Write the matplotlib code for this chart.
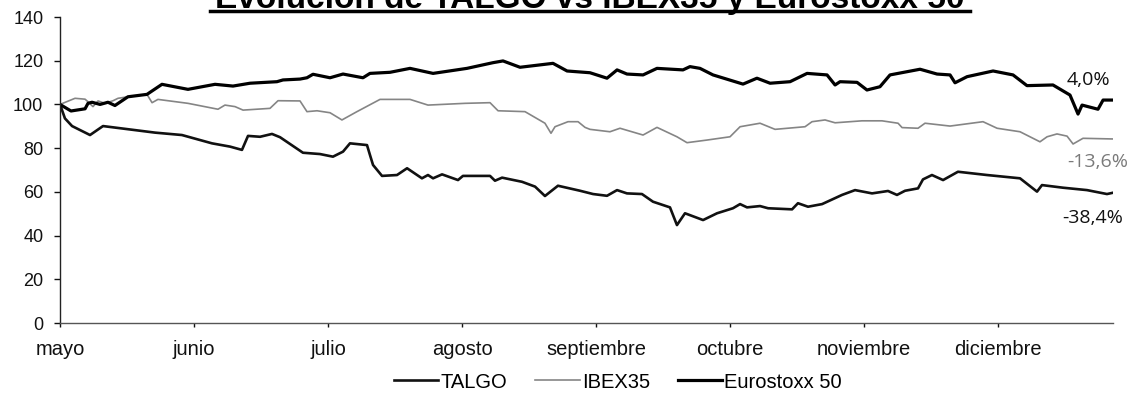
import matplotlib
matplotlib.use("Agg")
import matplotlib.pyplot as plt
from matplotlib.lines import Line2D

# ---- data (x in months since start of May) ----
months = ["mayo", "junio", "julio", "agosto", "septiembre", "octubre", "noviembre", "diciembre"]

euro_x = [0, 0.082, 0.187, 0.209, 0.239, 0.299, 0.358, 0.410, 0.507, 0.649, 0.761, 0.955, 1.157, 1.291,
          1.418, 1.619, 1.664, 1.791, 1.843, 1.888, 2.015, 2.112, 2.261, 2.313, 2.463, 2.612, 2.784,
          3.037, 3.231, 3.306, 3.433, 3.679, 3.784, 3.955, 4.082, 4.157, 4.231, 4.351, 4.455, 4.649,
          4.701, 4.776, 4.873, 5.097, 5.201, 5.299, 5.448, 5.575, 5.724, 5.784, 5.821, 5.948, 6.022,
          6.119, 6.194, 6.418, 6.545, 6.642, 6.679, 6.769, 6.963, 7.112, 7.216, 7.410, 7.537, 7.597,
          7.627, 7.746, 7.784, 7.858]
euro_y = [100, 97, 98, 100.5, 101, 100, 101, 99.5, 103.5, 104.6, 109.2, 106.9, 109.2, 108.4,
          109.7, 110.4, 111.2, 111.6, 112.2, 113.8, 112.2, 113.9, 112.2, 114.2, 114.7, 116.5, 114.2,
          116.5, 119.1, 119.9, 117, 118.8, 115.3, 114.5, 112, 115.8, 113.9, 113.5, 116.5, 115.8,
          117.3, 116.5, 113.5, 109.3, 112, 109.7, 110.4, 114.2, 113.5, 108.9, 110.4, 110.1, 106.6,
          108.1, 113.5, 116.1, 113.9, 113.5, 109.9, 112.7, 115.3, 113.5, 108.6, 108.9, 104.3, 95.6,
          99.7, 97.8, 102, 102]

ibex_x = [0, 0.112, 0.187, 0.209, 0.246, 0.284, 0.336, 0.396, 0.433, 0.507, 0.649, 0.687, 0.731,
          0.955, 1.179, 1.231, 1.306, 1.366, 1.567, 1.627, 1.791, 1.843, 1.918, 2.015, 2.104, 2.216,
          2.388, 2.612, 2.746, 3.022, 3.209, 3.269, 3.470, 3.619, 3.664, 3.694, 3.791, 3.866, 3.918,
          3.955, 4.104, 4.179, 4.351, 4.455, 4.604, 4.679, 4.828, 5.000, 5.075, 5.224, 5.336, 5.560,
          5.612, 5.709, 5.784, 5.985, 6.134, 6.254, 6.284, 6.403, 6.455, 6.642, 6.888, 6.993, 7.164,
          7.313, 7.366, 7.440, 7.515, 7.560, 7.634, 7.858]
ibex_y = [100, 102.8, 102.4, 101.2, 99, 101.6, 100.5, 101.7, 102.8, 103.5, 104.6, 100.8, 102.3,
          100.5, 97.8, 99.7, 99, 97.4, 98.2, 101.7, 101.6, 96.7, 97.1, 96.2, 92.9, 96.7,
          102.3, 102.3, 99.7, 100.5, 100.8, 97.1, 96.7, 91.4, 86.8, 89.8, 92.1, 92.1, 89.5,
          88.6, 87.5, 89.1, 86, 89.5, 85.2, 82.5, 83.7, 85.2, 89.8, 91.4, 88.6, 89.8,
          92.1, 92.9, 91.6, 92.5, 92.5, 91.4, 89.4, 89.1, 91.4, 90.1, 92.1, 89.1, 87.5,
          82.9, 85.2, 86.5, 85.5, 81.9, 84.5, 84.2]

talgo_x = [0, 0.037, 0.090, 0.224, 0.321, 0.709, 0.910, 1.134, 1.269, 1.358, 1.403, 1.493, 1.582,
           1.642, 1.813, 1.940, 2.037, 2.112, 2.164, 2.291, 2.313, 2.336, 2.403, 2.515, 2.590, 2.701,
           2.746, 2.784, 2.851, 2.970, 3.007, 3.209, 3.246, 3.299, 3.448, 3.545, 3.619, 3.716, 3.881,
           3.978, 4.082, 4.157, 4.231, 4.343, 4.425, 4.552, 4.604, 4.664, 4.799, 4.903, 5.022, 5.075,
           5.127, 5.224, 5.284, 5.463, 5.507, 5.582, 5.687, 5.836, 5.933, 6.060, 6.179, 6.246, 6.306,
           6.403, 6.440, 6.507, 6.590, 6.701, 6.918, 7.164, 7.291, 7.328, 7.485, 7.664, 7.813, 7.858]
talgo_y = [100, 93.6, 90.1, 86, 90.1, 87.1, 86, 82.2, 80.7, 79.2, 85.6, 85.2, 86.5,
           85, 77.9, 77.3, 76.1, 78.4, 82.2, 81.4, 76.9, 72.3, 67.3, 67.7, 70.8, 66.2,
           67.7, 66.2, 68, 65.4, 67.3, 67.3, 65.1, 66.5, 64.6, 62.4, 58.1, 62.8, 60.5,
           59, 58.2, 60.8, 59.3, 59, 55.5, 52.9, 44.8, 50.2, 47.1, 50.2, 52.5, 54.4,
           52.9, 53.5, 52.5, 52, 54.8, 53.2, 54.4, 58.6, 60.8, 59.3, 60.4, 58.6, 60.5,
           61.6, 65.7, 67.7, 65.4, 69.2, 67.7, 66.2, 60.1, 63.1, 61.9, 60.8, 59, 59.6]

end_labels = ["4,0%", "-13,6%", "-38,4%"]
end_label_y = [111, 73.5, 48]

# ---- figure ----
fig = plt.figure(figsize=(11.39, 4.0), dpi=100)
W, H = 1139, 400
ax = fig.add_axes([60 / W, 77 / H, 1053 / W, 306 / H])

ax.plot(talgo_x, talgo_y, color="#111111", lw=1.9, label="TALGO", solid_joinstyle="round")
ax.plot(ibex_x, ibex_y, color="#858585", lw=1.2, label="IBEX35", solid_joinstyle="round")
ax.plot(euro_x, euro_y, color="#000000", lw=2.3, label="Eurostoxx 50", solid_joinstyle="round")

ax.set_xlim(0, 7.858)
ax.set_ylim(0, 140)
ax.set_yticks(range(0, 141, 20))
ax.set_xticks(range(len(months)))
ax.set_xticklabels(months)

for s in ["top", "right"]:
    ax.spines[s].set_visible(False)
ax.spines["left"].set_color("#222222")
ax.spines["left"].set_linewidth(1.0)
ax.spines["bottom"].set_color("#555555")
ax.spines["bottom"].set_linewidth(1.0)

for lab in ax.get_yticklabels():
    lab.set_fontfamily("Liberation Sans")
    lab.set_fontsize(13)
for lab in ax.get_xticklabels():
    lab.set_fontfamily("Liberation Sans")
    lab.set_fontsize(14.5)
ax.tick_params(axis="y", direction="out", length=4, width=1, pad=8, colors="#111111")
ax.tick_params(axis="x", direction="out", length=3, width=1, pad=9, colors="#111111")

# end-value labels
label_colors = ["#111111", "#7a7a7a", "#111111"]
label_x = [1088, 1098, 1093]
for txt, yv, c, px in zip(end_labels, end_label_y, label_colors, label_x):
    ax.text((px - 60) / 134, yv, txt, color=c, fontsize=14, family="Open Sans",
            ha="center", va="center", clip_on=False)

# legend
leg = fig.legend(loc="center", bbox_to_anchor=(618 / W, 1 - 382 / H), ncol=3, frameon=False,
                 prop={"family": "Liberation Sans", "size": 14.5}, handlelength=2.2,
                 handletextpad=0.1, columnspacing=1.4)

# cut-off title with underline at the very top
fig.text(590 / W, 1 - 8 / H, "Evolución de TALGO vs IBEX35 y Eurostoxx 50",
         ha="center", va="baseline", fontsize=24, fontweight="bold", family="Liberation Sans")
fig.add_artist(Line2D([210 / W, 970 / W], [1 - 11 / H, 1 - 11 / H], color="#000000", lw=2.5,
                      transform=fig.transFigure))

fig.savefig("out.png", dpi=100)
